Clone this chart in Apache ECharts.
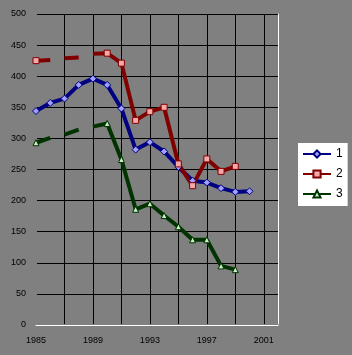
<!DOCTYPE html>
<html>
<head>
<meta charset="utf-8">
<script src="https://cdn.jsdelivr.net/npm/echarts@6/dist/echarts.min.js"></script>
<style>
html,body{margin:0;padding:0;background:#808080;}
#main{width:352px;height:355px;}
</style>
</head>
<body>
<div id="main"></div>
<script>
const years = ['1985','1986','1987','1988','1989','1990','1991','1992','1993','1994','1995','1996','1997','1998','1999','2000','2001','2002'];
const series1 = [344, 357, 364, 386, 396, 386, 348, 282, 294, 279, 254, 232, 229, 220, 214, 215, null, null];
const series2 = [425, 426, 429, 430, 436, 437, 421, 329, 343, 350, 259, 224, 267, 247, 255, null, null, null];
const series3 = [293, 301, 306, 314, 319, 324, 266, 186, 195, 176, 158, 137, 137, 95, 89, null, null, null];
const seriesNames = ['1', '2', '3'];
const yTicks = [0, 50, 100, 150, 200, 250, 300, 350, 400, 450, 500];

// visible line pieces (index ranges) for series 2 and 3, and points drawn without marker
const pieces = [[4, 17], [0, 1], [2, 3]];
const noMarker = [1, 2, 3, 4];

const styles = {
  '1': {line: '#000080', fill: '#a0a0ff', symbol: 'diamond', size: 7},
  '2': {line: '#800000', fill: '#f4a8a8', symbol: 'rect', size: 6},
  '3': {line: '#003300', fill: '#c8f0c0', symbol: 'triangle', size: 6}
};

function makeSeries(name, values, range, hideIdx) {
  const st = styles[name];
  const data = values.map((v, i) => {
    if (range && (i < range[0] || i > range[1])) return null;
    if (hideIdx && hideIdx.indexOf(i) >= 0) return {value: v, symbol: 'none'};
    return v;
  });
  return {
    name: name,
    type: 'line',
    data: data,
    symbol: st.symbol,
    symbolSize: st.size,
    showAllSymbol: true,
    connectNulls: false,
    lineStyle: {color: st.line, width: 4},
    itemStyle: {color: st.fill, borderColor: st.line, borderWidth: 1},
    emphasis: {disabled: true},
    animation: false,
    z: 3
  };
}

const allSeries = [];
allSeries.push(makeSeries('1', series1));
pieces.forEach(r => allSeries.push(makeSeries('2', series2, r, noMarker)));
pieces.forEach(r => allSeries.push(makeSeries('3', series3, r, noMarker)));

// vertical grid line colours: the first one (left edge) blends into the background
const vGridColors = ['#808080', '#000', '#000', '#000', '#000', '#000', '#000', '#000', '#000'];

const chart = echarts.init(document.getElementById('main'), null, {renderer: 'canvas'});
const font = 'Liberation Sans, Arial, sans-serif';
chart.setOption({
  backgroundColor: '#808080',
  animation: false,
  textStyle: {fontFamily: font},
  grid: {left: 36, top: 14, width: 242, height: 311, containLabel: false},
  legend: {
    data: seriesNames,
    orient: 'vertical',
    left: 298,
    top: 143,
    backgroundColor: '#ffffff',
    padding: [5, 5, 6, 4],
    itemWidth: 28,
    itemHeight: 9,
    itemGap: 8,
    textStyle: {fontSize: 12, color: '#000', fontFamily: font},
    selectedMode: false
  },
  xAxis: [{
    type: 'category',
    data: years,
    boundaryGap: false,
    axisLine: {show: true, lineStyle: {color: '#808080', width: 2}},
    axisTick: {show: false},
    axisLabel: {
      interval: 3,
      color: '#000', fontSize: 9, margin: 11, fontFamily: font,
      formatter: (v, i) => (i < 17 ? v : '')
    },
    splitLine: {
      show: true,
      interval: 1,
      lineStyle: {color: vGridColors, width: 1}
    },
    z: 2
  }, {
    type: 'category',
    data: years,
    boundaryGap: false,
    position: 'top',
    axisLine: {show: true, lineStyle: {color: '#ffffff', width: 1}},
    axisTick: {show: false},
    axisLabel: {show: false},
    splitLine: {show: false},
    z: 2
  }],
  yAxis: [{
    type: 'value',
    min: yTicks[0],
    max: yTicks[yTicks.length - 1],
    interval: 50,
    axisLine: {show: true, lineStyle: {color: '#808080', width: 2}},
    axisTick: {show: false},
    axisLabel: {color: '#000', fontSize: 9, margin: 10, fontFamily: font},
    splitLine: {show: true, lineStyle: {color: '#000', width: 1}}
  }, {
    type: 'value',
    position: 'right',
    min: yTicks[0],
    max: yTicks[yTicks.length - 1],
    interval: 50,
    axisLine: {show: true, lineStyle: {color: '#ffffff', width: 1}},
    axisTick: {show: false},
    axisLabel: {show: false},
    splitLine: {show: false}
  }],
  series: allSeries
});
</script>
</body>
</html>
